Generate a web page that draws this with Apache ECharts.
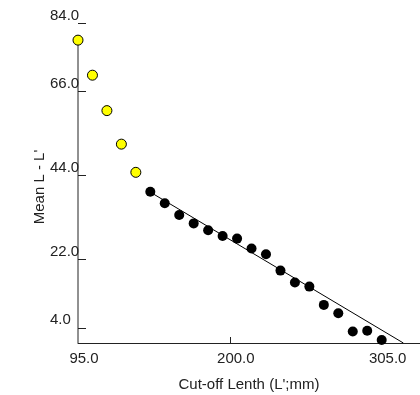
<!DOCTYPE html>
<html>
<head>
<meta charset="utf-8">
<script src="https://cdn.jsdelivr.net/npm/echarts@6/dist/echarts.min.js"></script>
<style>
  html, body { margin: 0; padding: 0; background: #fff; }
  #chart { width: 420px; height: 395px; }
</style>
</head>
<body>
<div id="chart"></div>
<script>
// cut-off lengths (mm) and mean L - L'
const yellowX = [95, 105, 115, 125, 135];
const yellowY = [79.5, 70.3, 61.0, 52.2, 44.8];

const blackX = [145, 155, 165, 175, 185, 195, 205, 215, 225, 235, 245, 255, 265, 275, 285, 295, 305];
const blackY = [39.7, 36.7, 33.6, 31.4, 29.6, 28.1, 27.4, 24.8, 23.3, 19.0, 15.9, 14.8, 10.0, 7.8, 3.0, 3.2, 0.8];

// fitted line through the black points
const fitX = [145, 320];
const fitY = [39.6, 0];

const xTicks = [95, 200, 305];
const yTicks = [4, 22, 44, 66, 84];

const X_MIN = 95, X_MAX = 331.5;
const Y_MIN = 0, Y_MAX = 84;

const font = "'Liberation Sans', Arial, sans-serif";
const ink = "#222";

const chart = echarts.init(document.getElementById("chart"), null, { renderer: "canvas" });

const options = {
  animation: false,
  backgroundColor: "#fff",
  grid: {
    left: 78,
    right: 0,
    top: 23,
    bottom: 52,
    containLabel: false,
    outerBoundsMode: "none",
  },
  xAxis: {
    type: "value",
    min: X_MIN,
    max: X_MAX,
    name: "Cut-off Lenth (L';mm)",
    nameLocation: "middle",
    nameGap: 34,
    nameMoveOverlap: false,
    nameTextStyle: { fontFamily: font, fontSize: 15, color: ink },
    axisLine: { show: true, lineStyle: { color: ink, width: 1 } },
    axisTick: {
      show: true,
      inside: true,
      length: 6,
      customValues: [200, 305],
      lineStyle: { color: ink, width: 1 },
    },
    axisLabel: {
      customValues: xTicks,
      formatter: (v) => v.toFixed(1),
      fontFamily: font,
      fontSize: 15,
      color: ink,
      margin: 8,
      padding: [0, 0, 0, 12],
    },
    splitLine: { show: false },
  },
  yAxis: {
    type: "value",
    min: Y_MIN,
    max: Y_MAX,
    name: "Mean L - L'",
    nameLocation: "middle",
    nameRotate: 90,
    nameGap: 31,
    nameMoveOverlap: false,
    nameTextStyle: { fontFamily: font, fontSize: 15, color: ink, padding: [0, 8, 0, 0] },
    axisLine: { show: false },
    axisTick: {
      show: true,
      inside: true,
      length: 8,
      customValues: yTicks,
      lineStyle: { color: ink, width: 1 },
    },
    axisLabel: {
      customValues: yTicks,
      formatter: (v) => v.toFixed(1),
      fontFamily: font,
      fontSize: 15,
      color: ink,
      align: "left",
      verticalAlign: "bottom",
      margin: 28,
    },
    splitLine: { show: false },
  },
  series: [
    {
      // the y axis line only runs up to the first point
      name: "axis",
      type: "line",
      data: [[X_MIN, Y_MIN], [yellowX[0], yellowY[0]]],
      symbol: "none",
      lineStyle: { color: ink, width: 1 },
      z: 1,
      silent: true,
    },
    {
      name: "fit",
      type: "line",
      data: fitX.map((x, i) => [x, fitY[i]]),
      symbol: "none",
      lineStyle: { color: "#000", width: 1 },
      z: 2,
      silent: true,
    },
    {
      name: "excluded",
      type: "scatter",
      data: yellowX.map((x, i) => [x, yellowY[i]]),
      symbol: "circle",
      symbolSize: 10,
      itemStyle: { color: "#ffff00", borderColor: "#000", borderWidth: 1, opacity: 1 },
      z: 3,
    },
    {
      name: "used",
      type: "scatter",
      data: blackX.map((x, i) => [x, blackY[i]]),
      symbol: "circle",
      symbolSize: 10,
      itemStyle: { color: "#000", opacity: 1 },
      z: 3,
    },
  ],
};

chart.setOption(options);
</script>
</body>
</html>
